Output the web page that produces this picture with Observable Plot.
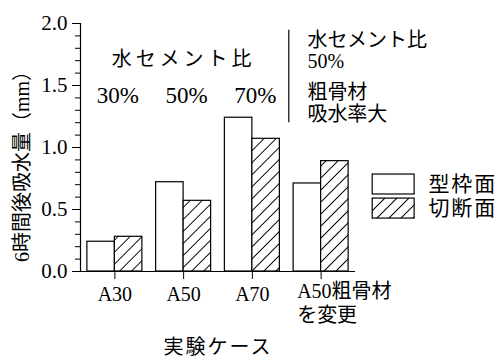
<!DOCTYPE html>
<html lang="ja">
<head>
<meta charset="utf-8">
<script src="https://cdn.jsdelivr.net/npm/d3@7"></script>
<script src="https://cdn.jsdelivr.net/npm/@observablehq/plot@0.6"></script>
<style>
  html, body { margin: 0; padding: 0; background: #fff; }
  #chart svg { display: block; }
</style>
</head>
<body>
<div id="chart"></div>
<script>
// Test cases along the x axis
const cases = ["A30", "A50", "A70", "A50粗骨材\nを変更"];
// Surface types (legend)
const series = ["型枠面", "切断面"];
// Water absorption after 6 hours (mm)
const formFace = [0.24, 0.72, 1.24, 0.71];
const cutFace = [0.28, 0.57, 1.07, 0.89];
// Water-cement ratio annotations over the first three cases
const ratioTitle = "水セメント比";
const ratioLabels = ["30%", "50%", "70%"];
// Note for the last case
const noteTop = "水セメント比\n50%";
const noteBottom = "粗骨材\n吸水率大";
// Axis ticks and titles
const yMajorTicks = [0, 0.5, 1.0, 1.5, 2.0];
const yMinorTicks = d3.ticks(0, 2, 20);
const yTitle = "6時間後吸水量（mm）";
const xTitle = "実験ケース";

const xDomain = [-0.5, 3.5];
const half = 0.4; // bar width in case units
const font = "'Liberation Serif', 'Noto Sans CJK JP', serif";

// Diagonal hatch used for the cut-surface bars
function hatchDefs() {
  const defs = d3.create("svg:defs");
  const p = defs.append("pattern")
    .attr("id", "hatch")
    .attr("patternUnits", "userSpaceOnUse")
    .attr("width", 8.5).attr("height", 8.5)
    .attr("patternTransform", "rotate(45)");
  p.append("rect").attr("width", 8.5).attr("height", 8.5).attr("fill", "white");
  p.append("line")
    .attr("x1", 4.25).attr("x2", 4.25).attr("y1", 0).attr("y2", 8.5)
    .attr("stroke", "black").attr("stroke-width", 1);
  return defs.node();
}

// Legend boxes, placed to the right of the plot area in scale units
const legendX = [3.75, 4.36];
const legendRows = series.map((s, k) => ({
  s, k,
  y1: 0.782 - k * 0.194,
  y2: 0.621 - k * 0.194,
  ty: 0.702 - k * 0.194
}));

const chart = Plot.plot({
  width: 504,
  height: 358,
  marginLeft: 80,
  marginRight: 149,
  marginTop: 23,
  marginBottom: 87,
  style: { fontSize: "20px", background: "white", color: "black" },
  x: { domain: xDomain },
  y: { domain: [0, 2.0] },
  marks: [
    hatchDefs,
    // bars
    Plot.rectY(formFace, { x1: (d, i) => i - half, x2: (d, i) => i, y: d => d, fill: "white", stroke: "black", strokeWidth: 1.2 }),
    Plot.rectY(cutFace, { x1: (d, i) => i, x2: (d, i) => i + half, y: d => d, fill: "url(#hatch)", stroke: "black", strokeWidth: 1.2 }),
    // axis lines
    Plot.ruleY([0], { strokeWidth: 1.2 }),
    Plot.ruleX([xDomain[0]], { strokeWidth: 1.2 }),
    // y axis ticks
    Plot.axisY({ ticks: yMajorTicks, tickSize: 8, tickPadding: 5, tickFormat: d3.format(".1f"), fontSize: 21, label: null }),
    Plot.axisY({ ticks: yMinorTicks, tickSize: 5, tickFormat: () => "", label: null }),
    // x axis ticks
    Plot.axisX({ ticks: [0, 1, 2, 3], tickSize: 8, tickPadding: 7, tickFormat: i => (i < 3 ? cases[i] : ""), fontSize: 20, label: null }),
    Plot.text([cases[3]], { x: 3, frameAnchor: "bottom", textAnchor: "start", lineAnchor: "top", dx: -24, dy: 9, lineHeight: 1.2, fontSize: 20 }),
    // axis titles
    Plot.text([yTitle], { frameAnchor: "left", textAnchor: "middle", lineAnchor: "middle", rotate: -90, dx: -58, dy: 14, fontSize: 20 }),
    Plot.text([xTitle], { frameAnchor: "bottom", lineAnchor: "middle", dy: 76, fontSize: 20 }),
    // water-cement ratio annotation
    Plot.text([ratioTitle], { x: 1, y: 1.71, fontSize: 20 }),
    Plot.text(ratioLabels, { x: (d, i) => i, y: 1.42, dx: 3, fontSize: 23 }),
    // note for the last case
    Plot.ruleX([2.53], { y1: 1.20, y2: 1.945, strokeWidth: 1.2 }),
    Plot.text([noteTop], { x: 2.8, y: 1.78, textAnchor: "start", lineHeight: 1.05, fontSize: 20 }),
    Plot.text([noteBottom], { x: 2.8, y: 1.363, textAnchor: "start", lineHeight: 1.1, fontSize: 20 }),
    // legend
    Plot.rect([legendRows[0]], { x1: legendX[0], x2: legendX[1], y1: "y1", y2: "y2", fill: "white", stroke: "black", strokeWidth: 1.2 }),
    Plot.rect([legendRows[1]], { x1: legendX[0], x2: legendX[1], y1: "y1", y2: "y2", fill: "url(#hatch)", stroke: "black", strokeWidth: 1.2 }),
    Plot.text(legendRows, { x: 4.56, y: "ty", text: "s", textAnchor: "start", fontSize: 21 })
  ]
});

// serif face on every label, and wider letter spacing for the spaced-out headings
d3.select(chart).selectAll("text, tspan").style("font-family", font);
d3.select(chart).selectAll("text").filter(function () {
  const t = this.textContent;
  return t === ratioTitle || t === xTitle || series.includes(t);
}).attr("letter-spacing", function () {
  return this.textContent === ratioTitle ? "4px" : "2px";
});

document.getElementById("chart").append(chart);
</script>
</body>
</html>
